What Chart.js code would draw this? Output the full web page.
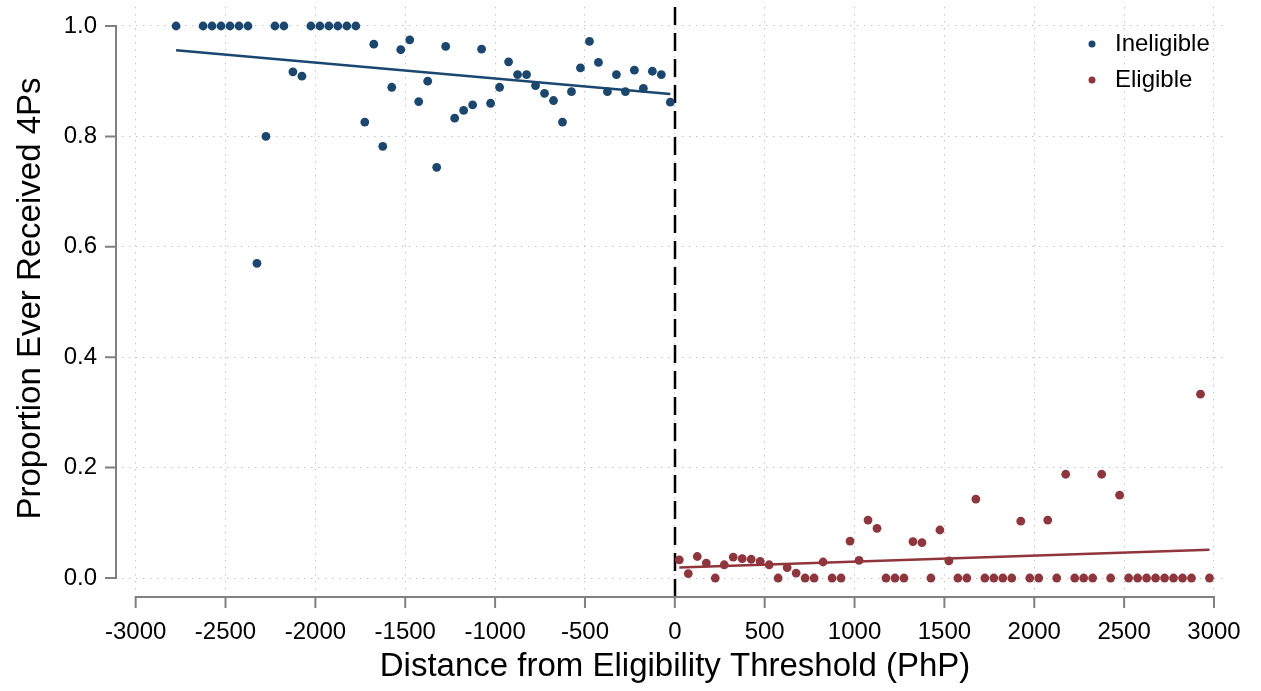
<!DOCTYPE html>
<html>
<head>
<meta charset="utf-8">
<script src="https://cdn.jsdelivr.net/npm/chart.js@4.4.1/dist/chart.umd.min.js"></script>
<style>
  html, body { margin: 0; padding: 0; background: #fff; }
  #wrap { width: 1261px; height: 691px; }
</style>
</head>
<body>
<div id="wrap"><canvas id="chart"></canvas></div>
<script>
// binned means, 50 PhP bins
const ineligibleX = [-2775,-2625,-2575,-2525,-2475,-2425,-2375,-2325,-2275,-2225,-2175,-2125,-2075,-2025,-1975,-1925,-1875,-1825,-1775,
  -1725,-1675,-1625,-1575,-1525,-1475,-1425,-1375,-1325,-1275,-1225,-1175,-1125,-1075,-1025,-975,-925,-875,-825,-775,
  -725,-675,-625,-575,-525,-475,-425,-375,-325,-275,-225,-175,-125,-75,-25];
const ineligibleY = [1,1,1,1,1,1,1,0.570,0.800,1,1,0.917,0.909,1,1,1,1,1,1,
  0.826,0.967,0.782,0.889,0.957,0.975,0.863,0.900,0.744,0.963,0.833,0.847,0.857,0.958,0.860,0.889,0.935,0.912,0.912,0.892,
  0.878,0.865,0.826,0.881,0.924,0.972,0.934,0.881,0.912,0.881,0.920,0.887,0.918,0.912,0.862];

const eligibleX = [25,75,125,175,225,275,325,375,425,475,525,575,625,675,725,775,825,875,925,975,
  1025,1075,1125,1175,1225,1275,1325,1375,1425,1475,1525,1575,1625,1675,1725,1775,1825,1875,1925,1975,
  2025,2075,2125,2175,2225,2275,2325,2375,2425,2475,2525,2575,2625,2675,2725,2775,2825,2875,2925,2975];
const eligibleY = [0.033,0.008,0.039,0.027,0,0.024,0.038,0.035,0.034,0.030,0.024,0,0.019,0.009,0,0,0.029,0,0,0.067,
  0.032,0.105,0.090,0,0,0,0.066,0.064,0,0.087,0.031,0,0,0.143,0,0,0,0,0.103,0,
  0,0.105,0,0.188,0,0,0,0.188,0,0.150,0,0,0,0,0,0,0,0,0.333,0];

// linear fits, read at their end points
const fitIneligible = [[-2775, 0.956], [-25, 0.877]];
const fitEligible = [[25, 0.019], [2975, 0.051]];

const threshold = 0;
const xTicks = [-3000,-2500,-2000,-1500,-1000,-500,0,500,1000,1500,2000,2500,3000];
const yTicks = [0, 0.2, 0.4, 0.6, 0.8, 1.0];

const NAVY = '#1a476f';
const MAROON = '#90353b';
const AXIS = '#808080';
const FONT = '"Liberation Sans", Arial, sans-serif';

const toPts = (xs, ys) => xs.map((x, i) => ({x: x, y: ys[i]}));

// axis lines, ticks, threshold line and legend, done the Stata way
const stataBits = {
  id: 'stataBits',
  beforeDatasetsDraw(chart) {
    const {ctx, chartArea, scales: {x}} = chart;
    const axisY = chartArea.bottom + 7;
    const px = Math.round(x.getPixelForValue(threshold));
    ctx.save();
    ctx.strokeStyle = '#000';
    ctx.lineWidth = 2.5;
    ctx.setLineDash([18, 8]);
    ctx.beginPath();
    ctx.moveTo(px, chartArea.top);
    ctx.lineTo(px, axisY);
    ctx.stroke();
    ctx.restore();
  },
  afterDraw(chart) {
    const {ctx, chartArea, scales: {x, y}} = chart;
    const axisX = chartArea.left - 6;
    const axisY = chartArea.bottom + 7;
    ctx.save();
    ctx.strokeStyle = AXIS;
    ctx.lineWidth = 2;
    ctx.lineCap = 'butt';
    // y axis
    ctx.beginPath();
    ctx.moveTo(axisX, y.getPixelForValue(yTicks[0]));
    ctx.lineTo(axisX, y.getPixelForValue(yTicks[yTicks.length - 1]));
    yTicks.forEach(v => {
      const p = y.getPixelForValue(v);
      ctx.moveTo(axisX + 1, p);
      ctx.lineTo(axisX - 11, p);
    });
    ctx.stroke();
    // x axis
    ctx.beginPath();
    ctx.moveTo(x.getPixelForValue(xTicks[0]), axisY);
    ctx.lineTo(x.getPixelForValue(xTicks[xTicks.length - 1]), axisY);
    xTicks.forEach(v => {
      const p = x.getPixelForValue(v);
      ctx.moveTo(p, axisY - 1);
      ctx.lineTo(p, axisY + 11);
    });
    ctx.stroke();

    // legend
    ctx.font = '24px ' + FONT;
    ctx.textBaseline = 'middle';
    ctx.textAlign = 'left';
    chart.data.datasets.slice(0, 2).forEach((ds, i) => {
      const ly = chartArea.top + 37 + i * 36;
      ctx.fillStyle = ds.backgroundColor;
      ctx.beginPath();
      ctx.arc(chartArea.right - 136, ly, 3.5, 0, Math.PI * 2);
      ctx.fill();
      ctx.fillStyle = '#000';
      ctx.fillText(ds.label, chartArea.right - 113, ly);
    });
    ctx.restore();
  }
};

new Chart(document.getElementById('chart'), {
  type: 'scatter',
  data: {
    datasets: [
      {
        label: 'Ineligible',
        data: toPts(ineligibleX, ineligibleY),
        backgroundColor: NAVY,
        borderColor: NAVY,
        pointRadius: 4.4,
        borderWidth: 0
      },
      {
        label: 'Eligible',
        data: toPts(eligibleX, eligibleY),
        backgroundColor: MAROON,
        borderColor: MAROON,
        pointRadius: 4.4,
        borderWidth: 0
      },
      {
        label: 'Fit ineligible',
        type: 'line',
        data: fitIneligible.map(p => ({x: p[0], y: p[1]})),
        borderColor: NAVY,
        borderWidth: 2.5,
        pointRadius: 0,
        fill: false
      },
      {
        label: 'Fit eligible',
        type: 'line',
        data: fitEligible.map(p => ({x: p[0], y: p[1]})),
        borderColor: MAROON,
        borderWidth: 2.5,
        pointRadius: 0,
        fill: false
      }
    ]
  },
  options: {
    responsive: true,
    maintainAspectRatio: false,
    animation: false,
    devicePixelRatio: 1,
    layout: { padding: { left: 0, right: 33, top: 7, bottom: 0 } },
    plugins: { legend: { display: false }, tooltip: { enabled: false } },
    scales: {
      x: {
        type: 'linear',
        min: -3076,
        max: 3078,
        afterBuildTicks: s => { s.ticks = xTicks.map(v => ({value: v})); },
        afterFit: s => { s.height = 101; s.paddingLeft = 0; s.paddingRight = 0; },
        grid: { color: '#c4c4c4', lineWidth: 1, drawTicks: false },
        border: { display: false, dash: [1.5, 5.5] },
        ticks: {
          padding: 28,
          color: '#000',
          font: { family: FONT, size: 24 },
          maxRotation: 0,
          autoSkip: false,
          callback: v => String(v)
        },
        title: {
          display: true,
          text: 'Distance from Eligibility Threshold (PhP)',
          color: '#000',
          font: { family: FONT, size: 33 },
          padding: { top: 0, bottom: 4 }
        }
      },
      y: {
        type: 'linear',
        min: -0.0217,
        max: 1.0344,
        afterBuildTicks: s => { s.ticks = yTicks.map(v => ({value: v})); },
        afterFit: s => { s.width = 122; s.paddingTop = 0; s.paddingBottom = 0; },
        grid: { color: '#c4c4c4', lineWidth: 1, drawTicks: false },
        border: { display: false, dash: [1.5, 5.5] },
        ticks: {
          padding: 25,
          color: '#000',
          font: { family: FONT, size: 24 },
          autoSkip: false,
          callback: v => v.toFixed(1)
        },
        title: {
          display: true,
          text: 'Proportion Ever Received 4Ps',
          color: '#000',
          font: { family: FONT, size: 33 },
          padding: { top: 11, bottom: 0 }
        }
      }
    }
  },
  plugins: [stataBits]
});
</script>
</body>
</html>
